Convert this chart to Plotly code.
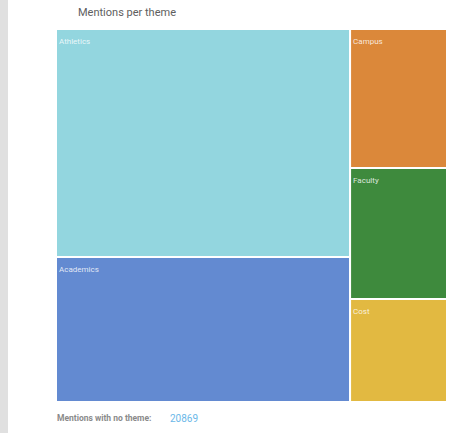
import plotly.graph_objects as go

themes = ["Athletics", "Academics", "Campus", "Faculty", "Cost"]
mentions = [6560, 4175, 1318, 1243, 977]
colors = ["#93D6DF", "#638AD1", "#DB883A", "#3E8A3D", "#E2B941"]
title_text = "Mentions per theme"
no_theme_label = "Mentions with no theme:"
no_theme_value = 20869

W, H = 462, 433

fig = go.Figure(go.Treemap(
    labels=themes,
    parents=[""] * len(themes),
    values=mentions,
    marker=dict(colors=colors, line=dict(color="white", width=2),
                pad=dict(t=0, l=0, r=0, b=0)),
    textposition="top left",
    textfont=dict(family="Roboto", size=8, color="rgba(255,255,255,0.82)"),
    texttemplate="<span style='font-size:2px'> </span><br>%{label}",
    tiling=dict(packing="squarify", squarifyratio=1, pad=0),
    pathbar=dict(visible=False),
    sort=True,
    domain=dict(x=[56 / W, 447 / W], y=[1 - 402 / H, 1 - 29 / H]),
    hoverinfo="label+value",
))

fig.update_layout(
    width=W, height=H,
    margin=dict(l=0, r=0, t=0, b=0),
    paper_bgcolor="white",
    showlegend=False,
    shapes=[dict(type="rect", xref="paper", yref="paper", x0=0, x1=8 / W, y0=0, y1=1,
                 fillcolor="#E0E0E0", line=dict(width=0), layer="below")],
    annotations=[
        dict(text=title_text, xref="paper", yref="paper", x=76 / W, y=1 - 12 / H,
             xanchor="left", yanchor="middle", showarrow=False,
             font=dict(family="Roboto", size=11, color="#5E5E5E")),
        dict(text="<b>" + no_theme_label + "</b>", xref="paper", yref="paper", x=55 / W, y=1 - 418 / H,
             xanchor="left", yanchor="middle", showarrow=False,
             font=dict(family="Roboto", size=8.5, color="#8A8A8A")),
        dict(text=str(no_theme_value), xref="paper", yref="paper", x=168 / W, y=1 - 418 / H,
             xanchor="left", yanchor="middle", showarrow=False,
             font=dict(family="Roboto", size=10, color="#6BB8E8")),
    ],
)

fig.write_html("out.html", config={"displayModeBar": False},
               post_script="document.body.style.margin='0px';")
